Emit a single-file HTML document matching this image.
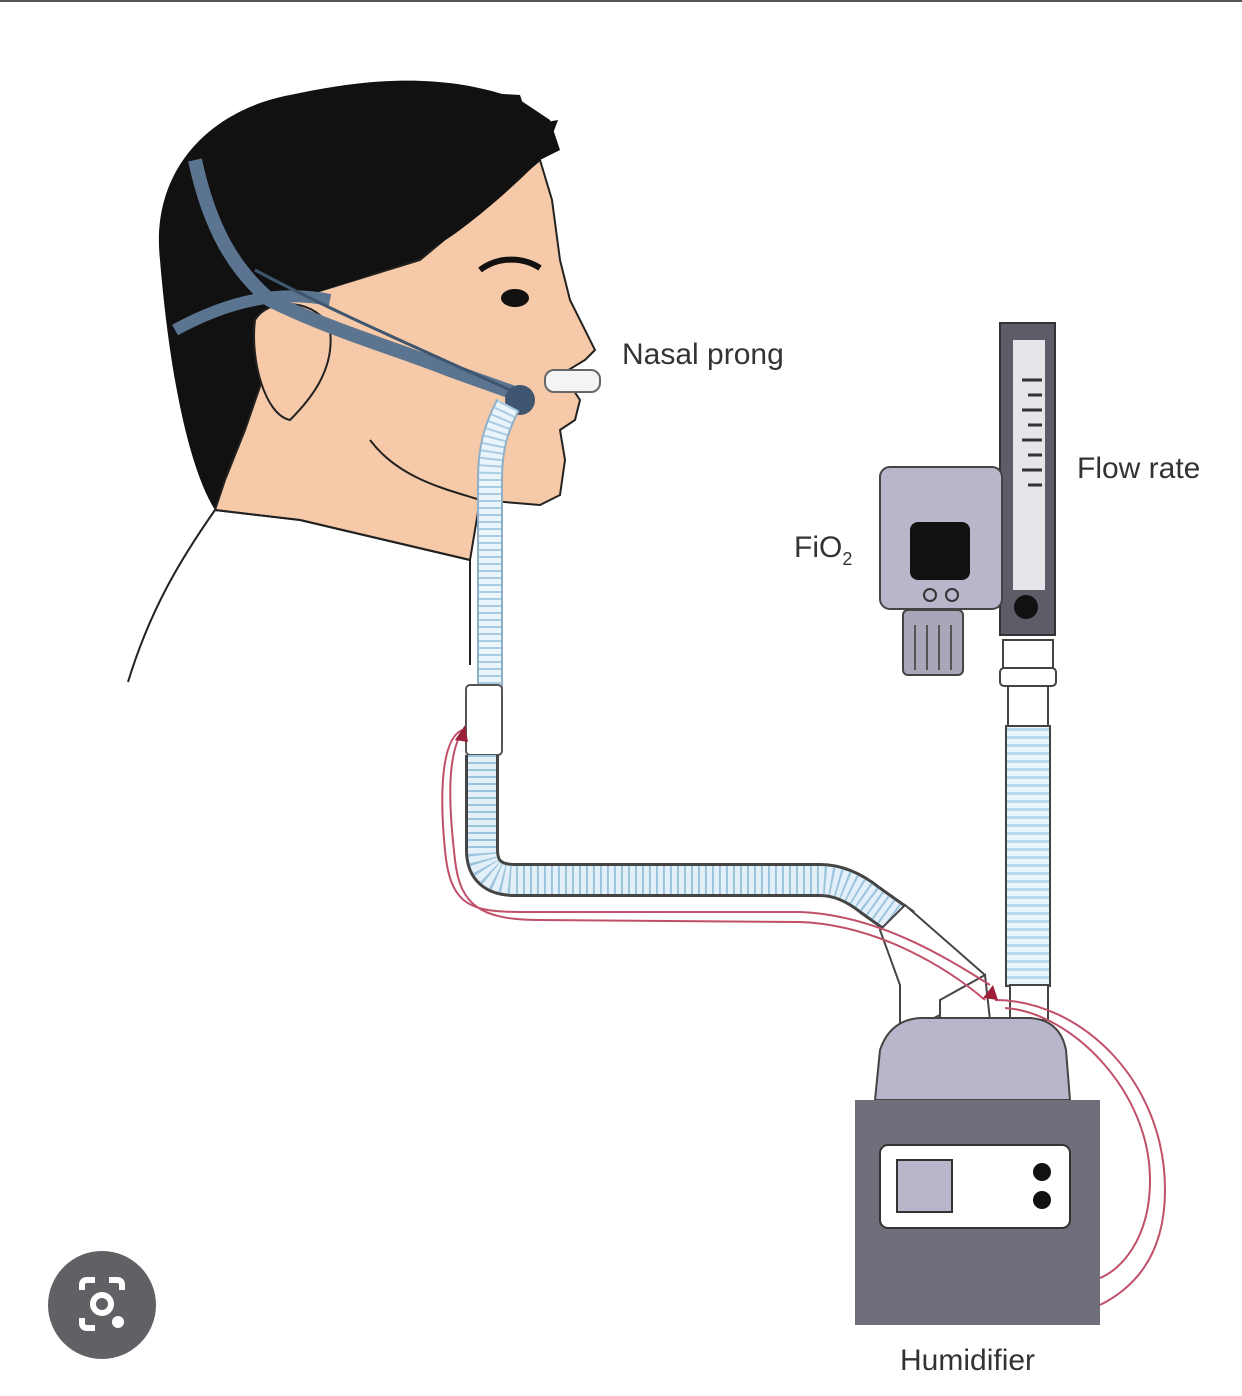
<!DOCTYPE html>
<html><head><meta charset="utf-8"><style>
html,body{margin:0;padding:0;background:#fff;}
svg{display:block;}
text{font-family:"Liberation Sans",sans-serif;fill:#333;}
</style></head><body>
<svg width="1242" height="1396" viewBox="0 0 1242 1396" xmlns="http://www.w3.org/2000/svg">
<defs>
<pattern id="rib" width="10" height="8" patternUnits="userSpaceOnUse">
<rect width="10" height="8" fill="#eaf4fb"/><rect y="0" width="10" height="3" fill="#b9d7ea"/>
</pattern>
</defs>
<rect x="0" y="0" width="1242" height="2" fill="#555"/>
<!-- shirt -->
<path d="M128,682 C150,610 180,560 215,510 L300,520 L470,560 L470,665 L300,690 L128,690 Z" fill="#fff"/>
<path d="M128,682 C150,610 180,560 215,510" fill="none" stroke="#222" stroke-width="2"/>
<path d="M470,560 L470,665" stroke="#222" stroke-width="2"/>
<!-- hair back -->
<path d="M160,260 C150,170 210,110 290,95 C360,80 440,70 520,100 L550,120 L560,150 L540,160 C520,190 500,220 490,250 L420,300 L330,330 L270,400 L230,470 L215,510 C190,470 170,380 160,260 Z" fill="#111"/>
<!-- face/skin -->
<path d="M290,300 L420,260 L480,210 L540,160 L552,200 L560,260 L570,300 L595,350 L585,360 L565,372 L570,385 L580,400 L575,420 L560,430 L565,460 L560,495 L540,505 L480,500 L470,560 L300,520 L215,510 L225,480 L245,430 Z" fill="#f6caa8" stroke="#222" stroke-width="2"/>
<!-- hair front -->
<path d="M290,300 C360,280 420,260 460,230 C500,200 530,170 545,155 L558,120 L530,125 L520,95 L400,88 L300,150 Z" fill="#111"/>
<!-- ear -->
<path d="M255,320 C270,295 320,300 330,330 C335,370 310,400 290,420 C265,415 250,360 255,320 Z" fill="#f6caa8" stroke="#222" stroke-width="2"/>
<!-- eye -->
<ellipse cx="515" cy="298" rx="14" ry="9" fill="#111"/>
<path d="M480,270 C500,255 525,258 540,268" stroke="#111" stroke-width="6" fill="none"/>
<path d="M370,440 C400,480 450,490 480,500" stroke="#222" stroke-width="2" fill="none"/>
<path d="M215,510 L300,520 L470,560" stroke="#222" stroke-width="2" fill="none"/>
<!-- strap -->
<path d="M195,160 C210,230 235,270 270,300 C330,330 400,350 450,370 L520,395" stroke="#5b7490" stroke-width="14" fill="none"/>
<path d="M175,330 C230,300 280,290 330,300" stroke="#5b7490" stroke-width="12" fill="none"/>
<path d="M255,270 C330,310 400,340 510,390" stroke="#3f5670" stroke-width="3" fill="none"/>
<!-- prong -->
<rect x="545" y="370" width="55" height="22" rx="9" fill="#f4f4f4" stroke="#666" stroke-width="2"/>
<circle cx="520" cy="400" r="15" fill="#3f5670"/>
<!-- vertical thin tube -->
<path d="M508,405 C495,430 490,450 490,480 L490,690" stroke="#8fb0c8" stroke-width="26" fill="none"/>
<path d="M508,405 C495,430 490,450 490,480 L490,690" stroke="#eaf4fb" stroke-width="22" fill="none"/>
<path d="M508,405 C495,430 490,450 490,480 L490,690" stroke="#a9cce2" stroke-width="22" fill="none" stroke-dasharray="2 5"/>
<rect x="466" y="685" width="36" height="70" rx="4" fill="#fff" stroke="#555" stroke-width="2"/>
<!-- corrugated tube -->
<path d="M482,755 L482,850 Q482,880 515,880 L820,880 Q845,880 870,900 L905,925" stroke="#444" stroke-width="34" fill="none"/>
<path d="M482,755 L482,850 Q482,880 515,880 L820,880 Q845,880 870,900 L905,925" stroke="#e3f0f9" stroke-width="28" fill="none"/>
<path d="M482,755 L482,850 Q482,880 515,880 L820,880 Q845,880 870,900 L905,925" stroke="#9cc4dc" stroke-width="28" fill="none" stroke-dasharray="2 5"/>
<!-- elbow -->
<path d="M880,930 L905,905 L985,975 L950,1010 L930,1020 L930,1040 L900,1040 L900,985 Z" fill="#fff" stroke="#444" stroke-width="2"/>
<path d="M940,1000 L985,975 L990,1020 L940,1020 Z" fill="#fff" stroke="#444" stroke-width="2"/>
<!-- flow meter tube down -->
<rect x="1003" y="640" width="50" height="45" fill="#fff" stroke="#444" stroke-width="2"/>
<rect x="1000" y="668" width="56" height="18" rx="4" fill="#fff" stroke="#444" stroke-width="2"/>
<rect x="1008" y="686" width="40" height="40" fill="#fff" stroke="#444" stroke-width="2"/>
<rect x="1006" y="726" width="44" height="260" fill="url(#rib)" stroke="#444" stroke-width="2"/>
<rect x="1010" y="985" width="38" height="35" fill="#fff" stroke="#444" stroke-width="2"/>
<!-- flow meter -->
<rect x="1000" y="323" width="55" height="312" fill="#5c5d66" stroke="#333" stroke-width="2"/>
<rect x="1013" y="340" width="32" height="250" fill="#e6e6ea"/>
<g stroke="#333" stroke-width="3">
<line x1="1022" y1="380" x2="1042" y2="380"/><line x1="1028" y1="395" x2="1042" y2="395"/>
<line x1="1022" y1="410" x2="1042" y2="410"/><line x1="1028" y1="425" x2="1042" y2="425"/>
<line x1="1022" y1="440" x2="1042" y2="440"/><line x1="1028" y1="455" x2="1042" y2="455"/>
<line x1="1022" y1="470" x2="1042" y2="470"/><line x1="1028" y1="485" x2="1042" y2="485"/>
</g>
<circle cx="1026" cy="607" r="12" fill="#111"/>
<!-- FiO2 box -->
<rect x="880" y="467" width="122" height="142" rx="10" fill="#b9b6cc" stroke="#444" stroke-width="2"/>
<rect x="910" y="522" width="60" height="58" rx="8" fill="#111"/>
<circle cx="930" cy="595" r="6" fill="none" stroke="#333" stroke-width="2"/>
<circle cx="952" cy="595" r="6" fill="none" stroke="#333" stroke-width="2"/>
<rect x="903" y="610" width="60" height="65" rx="5" fill="#a8a6b8" stroke="#444" stroke-width="2"/>
<g stroke="#555" stroke-width="2"><line x1="915" y1="625" x2="915" y2="670"/><line x1="927" y1="625" x2="927" y2="670"/><line x1="939" y1="625" x2="939" y2="670"/><line x1="951" y1="625" x2="951" y2="670"/></g>
<!-- humidifier -->
<path d="M875,1100 L880,1050 Q890,1020 920,1018 L1030,1018 Q1060,1020 1066,1050 L1070,1100 Z" fill="#b9b6cc" stroke="#444" stroke-width="2"/>
<rect x="855" y="1100" width="245" height="225" fill="#6e6f7a"/>
<rect x="880" y="1145" width="190" height="83" rx="8" fill="#fff" stroke="#333" stroke-width="2"/>
<rect x="897" y="1160" width="55" height="52" fill="#b9b6cc" stroke="#333" stroke-width="2"/>
<circle cx="1042" cy="1172" r="9" fill="#111"/>
<circle cx="1042" cy="1200" r="9" fill="#111"/>
<!-- red wire -->
<g fill="none" stroke="#c0506a" stroke-width="2">
<path d="M462,730 C440,740 440,800 445,850 C450,905 470,912 520,912 L800,912 C880,915 950,960 990,985"/>
<path d="M460,735 C448,760 448,800 455,860 C460,905 480,920 540,920 L800,922 C880,925 950,970 985,1000"/>
<path d="M995,1000 C1080,1000 1165,1080 1165,1190 C1165,1260 1130,1290 1100,1305"/>
<path d="M1005,1008 C1070,1012 1150,1090 1150,1180 C1150,1240 1120,1270 1100,1278"/>
</g>
<path d="M455,740 L465,725 L468,742 Z" fill="#9c1f3a"/>
<path d="M983,998 L993,985 L998,1000 Z" fill="#9c1f3a"/>
<!-- labels -->
<text x="622" y="364" font-size="30">Nasal prong</text>
<text x="1077" y="478" font-size="30">Flow rate</text>
<text x="794" y="557" font-size="30">FiO<tspan font-size="18" dy="8">2</tspan></text>
<text x="900" y="1370" font-size="30">Humidifier</text>
<!-- lens button -->
<circle cx="102" cy="1305" r="54" fill="#606164"/>
<path d="M82,1290 L82,1285 Q82,1280 87,1280 L95,1280 M109,1280 L117,1280 Q122,1280 122,1285 L122,1290 M82,1318 L82,1323 Q82,1328 87,1328 L95,1328" stroke="#fff" stroke-width="6" fill="none"/>
<circle cx="102" cy="1304" r="9" fill="none" stroke="#fff" stroke-width="6"/>
<circle cx="118" cy="1322" r="6" fill="#fff"/>
</svg>
</body></html>
